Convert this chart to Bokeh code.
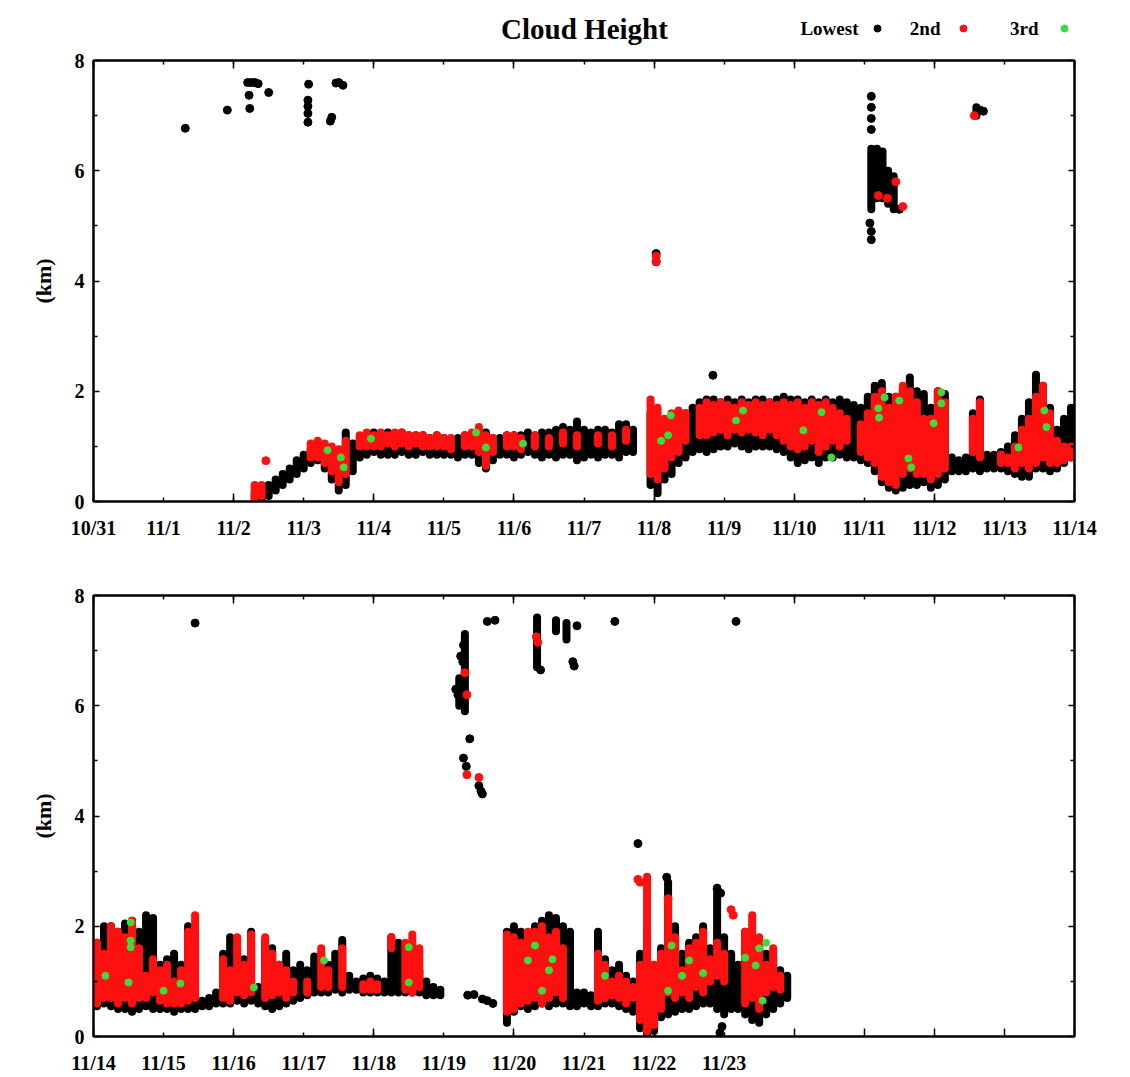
from bokeh.plotting import figure
from bokeh.layouts import column
from bokeh.models import FixedTicker, LinearAxis, Range1d
from bokeh.core.properties import value
from bokeh.embed import file_html
from bokeh.resources import INLINE

# ---------------------------------------------------------------------------
# Cloud base heights (km) from the ceilometer, time in days since 10/31 00:00.
# Dense stretches are stored as columns (time, lowest km, highest km) of
# overlapping returns; isolated returns as single (time, km) points.
# ---------------------------------------------------------------------------

# ---- Panel 1: 10/31 - 11/14 ----
p1_low_t = [2.3, 2.4, 2.5, 2.6, 2.7, 2.8, 2.9, 3.0, 3.1, 3.2, 3.3, 3.4, 3.5, 3.6, 3.7, 3.8,
            3.9, 4.0, 4.1, 4.2, 4.3, 4.4, 4.5, 4.6, 4.7, 4.8, 4.9, 5.0, 5.1, 5.2, 5.3, 5.4,
            5.5, 5.6, 5.7, 5.8, 5.9, 6.0, 6.1, 6.2, 6.3, 6.4, 6.5, 6.6, 6.7, 6.8, 6.9, 7.0,
            7.1, 7.2, 7.3, 7.4, 7.5, 7.6, 7.7,
            7.95, 8.05, 8.15, 8.25, 8.35, 8.45, 8.55, 8.65, 8.75, 8.85, 8.95, 9.05, 9.15,
            9.25, 9.35, 9.45, 9.55, 9.65, 9.75, 9.85, 9.95, 10.05, 10.15, 10.25, 10.35,
            10.45, 10.55, 10.65, 10.75, 10.85, 10.95, 11.05, 11.15, 11.25, 11.35, 11.45,
            11.55, 11.65, 11.75, 11.85, 11.95, 12.05, 12.15, 12.25, 12.35, 12.45, 12.55,
            12.65, 12.75, 12.85, 12.95, 13.05, 13.15, 13.25, 13.35, 13.45, 13.55, 13.65,
            13.75, 13.85, 13.95]
p1_low_lo = [0.05, 0.05, 0.1, 0.2, 0.3, 0.4, 0.5, 0.6, 0.7, 0.75, 0.6, 0.4, 0.2, 0.3, 0.55, 0.8,
             0.85, 0.9, 0.85, 0.85, 0.85, 0.9, 0.85, 0.85, 0.9, 0.85, 0.85, 0.85, 0.85, 0.8, 0.85, 0.85,
             0.7, 0.6, 0.75, 0.85, 0.85, 0.8, 0.85, 0.9, 0.85, 0.8, 0.85, 0.8, 0.85, 0.85, 0.75, 0.8,
             0.85, 0.8, 0.85, 0.85, 0.8, 0.9, 0.9,
             0.3, 0.15, 0.4, 0.5, 0.7, 0.8, 0.9, 0.95, 0.9, 0.95, 1.0, 1.0, 1.05,
             1.0, 0.95, 1.0, 1.0, 1.0, 0.95, 0.9, 0.8, 0.7, 0.75, 0.8, 0.7,
             0.8, 0.8, 0.85, 0.8, 0.8, 0.75, 0.7, 0.55, 0.35, 0.25, 0.2,
             0.25, 0.3, 0.3, 0.35, 0.25, 0.3, 0.4, 0.55, 0.55, 0.55, 0.6,
             0.55, 0.6, 0.6, 0.6, 0.55, 0.5, 0.45, 0.45, 0.6, 0.6, 0.55,
             0.6, 0.7, 0.8]
p1_low_hi = [0.15, 0.2, 0.3, 0.4, 0.5, 0.6, 0.75, 0.85, 0.95, 1.0, 1.0, 0.95, 0.9, 1.25, 1.05, 1.15,
             1.2, 1.25, 1.2, 1.25, 1.2, 1.25, 1.2, 1.2, 1.2, 1.15, 1.2, 1.15, 1.1, 1.15, 1.2, 1.2,
             1.3, 1.25, 1.15, 1.15, 1.2, 1.2, 1.2, 1.25, 1.2, 1.25, 1.25, 1.3, 1.35, 1.3, 1.45, 1.3,
             1.25, 1.3, 1.3, 1.25, 1.4, 1.4, 1.3,
             1.6, 1.0, 1.2, 1.3, 1.5, 1.6, 1.7, 1.8, 1.85, 1.85, 1.8, 1.85, 1.8,
             1.85, 1.8, 1.85, 1.85, 1.8, 1.85, 1.9, 1.85, 1.85, 1.8, 1.85, 1.8,
             1.85, 1.8, 1.85, 1.8, 1.75, 1.7, 1.9, 2.1, 2.15, 1.9, 1.9,
             2.0, 2.25, 2.0, 1.95, 1.7, 2.0, 1.95, 0.8, 0.75, 0.8, 1.6,
             1.85, 0.85, 0.85, 0.9, 1.0, 1.2, 1.5, 1.8, 2.3, 2.1, 1.7,
             1.3, 1.5, 1.7]

p1_2nd_t = [2.3, 2.4, 3.1, 3.2, 3.3, 3.4, 3.5, 3.6, 3.8, 3.9, 4.0, 4.1, 4.2, 4.3, 4.4, 4.5,
            4.6, 4.7, 4.8, 4.9, 5.0, 5.1, 5.3, 5.4, 5.5, 5.6, 5.7, 5.9, 6.0, 6.1, 6.3, 6.5,
            6.7, 6.9, 7.2, 7.4, 7.6,
            7.95, 8.05, 8.15, 8.25, 8.35, 8.45, 8.65, 8.75, 8.85, 8.95, 9.05, 9.15, 9.25,
            9.35, 9.45, 9.55, 9.65, 9.75, 9.85, 9.95, 10.05, 10.15, 10.25, 10.35, 10.45,
            10.55, 10.65, 10.75, 10.95, 11.05, 11.15, 11.25, 11.35, 11.45, 11.55, 11.65,
            11.75, 11.85, 11.95, 12.05, 12.15, 12.55, 12.65, 12.95, 13.05, 13.15, 13.25,
            13.35, 13.45, 13.55, 13.65, 13.75, 13.85, 13.95]
p1_2nd_lo = [0.05, 0.1, 0.8, 0.8, 0.7, 0.55, 0.35, 0.5, 1.0, 1.0, 1.0, 1.0, 1.05, 1.0, 1.05, 1.0,
             1.05, 1.0, 1.0, 1.0, 1.0, 0.95, 1.0, 1.0, 0.9, 0.65, 0.9, 1.0, 1.0, 0.95, 1.0, 1.0,
             1.05, 1.0, 1.05, 1.0, 1.1,
             0.5, 0.4, 0.6, 0.8, 0.9, 1.1, 1.2, 1.2, 1.25, 1.3, 1.2, 1.3, 1.25,
             1.3, 1.25, 1.2, 1.3, 1.2, 1.1, 1.0, 0.95, 1.0, 1.1, 0.9, 1.0,
             1.1, 1.0, 1.1, 0.9, 0.8, 0.7, 0.45, 0.35, 0.3, 0.5, 0.6,
             0.5, 0.5, 0.4, 0.5, 0.6, 0.9, 0.8, 0.7, 0.7, 0.6, 0.7,
             0.6, 0.7, 0.8, 0.7, 0.7, 0.75, 0.8]
p1_2nd_hi = [0.3, 0.3, 1.05, 1.1, 1.05, 1.0, 0.95, 1.1, 1.2, 1.25, 1.2, 1.25, 1.2, 1.25, 1.25, 1.2,
             1.2, 1.2, 1.15, 1.2, 1.15, 1.15, 1.2, 1.25, 1.35, 1.2, 1.15, 1.2, 1.2, 1.15, 1.2, 1.15,
             1.25, 1.2, 1.2, 1.2, 1.3,
             1.85, 1.7, 1.5, 1.6, 1.65, 1.6, 1.7, 1.8, 1.75, 1.8, 1.75, 1.7, 1.8,
             1.75, 1.8, 1.75, 1.8, 1.75, 1.8, 1.75, 1.8, 1.7, 1.8, 1.75, 1.8,
             1.7, 1.6, 1.5, 1.4, 1.6, 1.9, 2.0, 1.7, 1.9, 2.1, 2.0,
             1.8, 1.5, 1.5, 2.0, 1.8, 1.5, 1.8, 0.85, 0.8, 1.0, 1.3,
             1.5, 1.9, 2.1, 1.6, 1.1, 1.0, 1.0]

p1_low_pt_t = [1.31, 1.91, 2.2, 2.25, 2.3, 2.35, 2.22, 2.23, 2.5, 3.07, 3.06, 3.06, 3.06, 3.06,
               3.4, 3.38, 3.46, 3.5, 3.56, 8.03, 8.03, 8.84,
               11.1, 11.1, 11.1, 11.1, 11.1, 11.1, 11.08, 11.5, 12.65, 12.7]
p1_low_pt_h = [6.77, 7.1, 7.6, 7.6, 7.6, 7.58, 7.37, 7.13, 7.42, 7.57, 7.28, 7.17, 7.04, 6.88,
               6.97, 6.9, 7.59, 7.6, 7.55, 4.35, 4.5, 2.29,
               7.35, 7.15, 6.95, 6.75, 4.75, 4.9, 5.05, 5.3, 7.1, 7.08]
# upper (mid-level) layers seen on 11/11 and 11/12
p1_up_t = [11.1, 11.18, 11.26, 11.34, 11.42, 12.6]
p1_up_lo = [5.3, 5.5, 5.5, 5.4, 5.3, 7.0]
p1_up_hi = [6.4, 6.4, 6.35, 6.0, 5.9, 7.15]

p1_2nd_pt_t = [2.46, 8.03, 8.03, 11.2, 11.33, 11.45, 11.55, 12.57]
p1_2nd_pt_h = [0.74, 4.35, 4.45, 5.55, 5.5, 5.8, 5.35, 7.0]

p1_3rd_t = [3.34, 3.53, 3.57, 3.96, 5.46, 5.6, 6.13, 8.1, 8.24, 8.2, 9.17, 9.27, 10.13,
            10.39, 10.53, 11.2, 11.29, 11.21, 11.5, 11.63, 11.67, 12.1, 12.1, 11.99,
            13.2, 13.57, 13.6]
p1_3rd_h = [0.93, 0.8, 0.62, 1.14, 1.25, 0.98, 1.05, 1.1, 1.56, 1.2, 1.47, 1.65, 1.29,
            1.62, 0.8, 1.69, 1.89, 1.52, 1.83, 0.78, 0.62, 1.98, 1.78, 1.42,
            0.98, 1.65, 1.35]

# ---- Panel 2: 11/14 - 11/28 ----
p2_low_t = [14.05, 14.15, 14.25, 14.35, 14.45, 14.55, 14.65, 14.75, 14.85, 14.95, 15.05,
            15.15, 15.25, 15.35, 15.45, 15.55, 15.65, 15.75, 15.85, 15.95, 16.05, 16.15,
            16.25, 16.35, 16.45, 16.55, 16.65, 16.75, 16.85, 16.95, 17.05, 17.15, 17.25,
            17.35, 17.45, 17.55, 17.65, 17.75, 17.85, 17.95, 18.05, 18.15, 18.25, 18.35,
            18.45, 18.55, 18.65, 18.75, 18.85, 18.95,
            19.9, 20.0, 20.1, 20.2, 20.3, 20.4, 20.5, 20.6, 20.7, 20.8, 20.9, 21.0, 21.1,
            21.2, 21.3, 21.4, 21.5, 21.6, 21.7, 21.8, 21.9, 22.0, 22.1, 22.2, 22.3, 22.4,
            22.5, 22.6, 22.7, 22.8, 22.9, 23.0, 23.1, 23.2, 23.3, 23.4, 23.5, 23.6, 23.7,
            23.8, 23.9]
p2_low_lo = [0.55, 0.6, 0.55, 0.5, 0.5, 0.45, 0.5, 0.55, 0.5, 0.5, 0.5,
             0.45, 0.5, 0.5, 0.5, 0.55, 0.55, 0.6, 0.6, 0.6, 0.65, 0.6,
             0.65, 0.6, 0.55, 0.5, 0.55, 0.6, 0.65, 0.7, 0.75, 0.8, 0.8,
             0.8, 0.85, 0.8, 0.85, 0.85, 0.8, 0.8, 0.8, 0.8, 0.8, 0.8,
             0.8, 0.8, 0.8, 0.75, 0.75, 0.75,
             0.25, 0.45, 0.55, 0.5, 0.55, 0.6, 0.55, 0.6, 0.6, 0.55, 0.55, 0.6, 0.55,
             0.55, 0.6, 0.6, 0.55, 0.5, 0.45, 0.15, 0.05, 0.1, 0.35, 0.4, 0.45, 0.5,
             0.5, 0.55, 0.6, 0.6, 0.5, 0.4, 0.5, 0.5, 0.4, 0.3, 0.25, 0.4, 0.5,
             0.6, 0.7]
p2_low_hi = [1.7, 2.0, 2.0, 1.9, 2.05, 2.1, 1.9, 2.2, 2.15, 1.3, 1.4,
             1.5, 1.3, 2.0, 1.9, 0.65, 0.7, 0.8, 1.5, 1.8, 1.6, 1.4,
             1.9, 0.9, 1.7, 1.6, 1.3, 1.5, 1.2, 1.3, 1.2, 1.45, 1.5,
             1.3, 1.5, 1.75, 1.1, 1.0, 1.05, 1.1, 1.05, 1.0, 1.8, 1.7,
             1.3, 1.4, 1.2, 1.0, 0.9, 0.85,
             1.9, 2.0, 1.9, 1.85, 2.0, 2.1, 2.2, 2.15, 2.0, 1.9, 0.8, 0.8, 0.75,
             1.9, 1.4, 1.2, 1.3, 1.1, 1.0, 1.5, 1.9, 1.1, 1.6, 2.8, 2.0, 1.5,
             1.7, 1.8, 2.0, 1.6, 2.7, 1.8, 1.5, 1.3, 1.9, 1.8, 1.7, 1.5, 1.4,
             1.2, 1.1]

p2_2nd_t = [14.05, 14.15, 14.25, 14.35, 14.45, 14.55, 14.65, 14.75, 14.85, 14.95, 15.05,
            15.15, 15.25, 15.35, 15.45, 15.85, 15.95, 16.05, 16.15, 16.25, 16.45, 16.55,
            16.65, 16.75, 16.85, 17.05, 17.25, 17.35, 17.55, 17.85, 17.95, 18.05, 18.25,
            18.45, 18.55, 18.65,
            19.9, 20.0, 20.1, 20.2, 20.3, 20.4, 20.5, 20.6, 20.7, 21.2, 21.3, 21.4, 21.5,
            21.6, 21.7, 21.8, 21.9, 22.0, 22.1, 22.2, 22.3, 22.4, 22.5, 22.6, 22.7, 22.8,
            22.9, 23.0, 23.3, 23.4, 23.5, 23.6, 23.7, 23.8]
p2_2nd_lo = [0.6, 0.7, 0.7, 0.6, 0.7, 0.6, 0.7, 0.7, 0.8, 0.65, 0.6,
             0.6, 0.6, 0.65, 0.7, 0.7, 0.65, 0.8, 0.75, 0.8, 0.7, 0.75,
             0.8, 0.7, 0.8, 0.8, 0.9, 0.9, 0.9, 0.85, 0.85, 0.85, 1.6,
             0.85, 0.8, 0.9,
             0.45, 0.5, 0.6, 0.65, 0.7, 0.6, 0.7, 0.8, 0.7, 0.65, 0.7, 0.75, 0.7,
             0.6, 0.7, 0.3, 0.1, 0.2, 0.5, 0.8, 0.7, 0.8, 0.7, 0.9, 0.8, 1.0,
             1.1, 1.0, 0.6, 0.7, 0.5, 0.8, 0.9, 0.85]
p2_2nd_hi = [1.7, 1.5, 2.0, 1.9, 1.8, 2.1, 1.6, 1.1, 1.4, 1.2, 1.3,
             1.0, 1.2, 1.9, 2.2, 1.4, 1.2, 1.8, 1.3, 1.85, 1.8, 1.5,
             1.3, 1.2, 1.0, 1.0, 1.6, 1.2, 1.6, 0.95, 1.0, 0.95, 1.8,
             1.7, 1.85, 1.6,
             1.85, 1.8, 1.7, 1.9, 1.9, 2.0, 1.8, 1.9, 1.6, 1.5, 1.3, 1.0, 1.1,
             1.0, 0.9, 1.3, 2.9, 1.3, 1.5, 2.5, 1.8, 1.2, 1.6, 1.7, 1.9, 1.4,
             1.7, 1.5, 1.9, 2.2, 1.8, 1.3, 1.6, 1.1]

p2_low_pt_t = [15.45, 19.34, 19.43, 19.55, 19.62, 19.7,
               19.17, 19.2, 19.24, 19.27, 19.28, 19.37, 19.28, 19.32, 19.5, 19.53, 19.55,
               19.62, 19.73, 20.38, 20.84, 20.86, 20.9, 21.44, 23.17,
               21.77, 22.18, 22.9, 22.95, 22.94, 22.97]
p2_low_pt_h = [7.5, 0.75, 0.76, 0.68, 0.65, 0.6,
               6.3, 6.2, 6.9, 6.8, 7.1, 5.4, 5.05, 4.9, 4.55, 4.45, 4.4,
               7.53, 7.55, 6.65, 6.8, 6.72, 7.45, 7.53, 7.53,
               3.5, 2.89, 2.68, 2.6, 0.07, 0.18]
# upper layers on 11/19 and 11/20
p2_up_t = [19.22, 19.3, 20.33, 20.6, 20.75]
p2_up_lo = [6.0, 5.9, 6.7, 7.35, 7.2]
p2_up_hi = [6.5, 7.3, 7.6, 7.55, 7.5]

p2_2nd_pt_t = [19.3, 19.33, 19.33, 19.5, 20.32, 20.34, 21.77, 21.8, 22.2, 23.1, 23.13]
p2_2nd_pt_h = [6.6, 6.2, 4.75, 4.7, 7.25, 7.15, 2.85, 2.8, 2.5, 2.3, 2.2]

p2_3rd_t = [14.17, 14.53, 14.53, 14.53, 14.5, 15.0, 15.24, 16.29, 17.29, 18.5, 18.5,
            20.2, 20.3, 20.4, 20.5, 20.55, 21.3, 22.2, 22.25, 22.4, 22.5, 22.7,
            23.3, 23.45, 23.5, 23.55, 23.6]
p2_3rd_h = [1.1, 2.07, 1.74, 1.62, 0.98, 0.83, 0.96, 0.89, 1.38, 1.62, 0.98,
            1.38, 1.65, 0.83, 1.2, 1.4, 1.1, 0.83, 1.65, 1.1, 1.38, 1.15,
            1.43, 1.29, 1.6, 0.65, 1.7]

# tick labels
p1_day_labels = ["10/31", "11/1", "11/2", "11/3", "11/4", "11/5", "11/6", "11/7",
                 "11/8", "11/9", "11/10", "11/11", "11/12", "11/13", "11/14"]
p2_day_labels = ["11/14", "11/15", "11/16", "11/17", "11/18", "11/19", "11/20",
                 "11/21", "11/22", "11/23"]

# key entries
key_names = ["Lowest", "2nd", "3rd"]

# ---------------------------------------------------------------------------
FONT = "Liberation Serif"
BLACK = "#000000"
RED = "#ff1010"
GREEN = "#3ddc3d"
DOT = 8
LEFT, RIGHT, FRAME_W = 93, 56, 981


def style_axis(ax, tick_len, minor_len):
    ax.axis_line_width = 2
    ax.axis_line_color = BLACK
    ax.major_tick_line_color = BLACK
    ax.minor_tick_line_color = BLACK
    ax.major_tick_in = tick_len
    ax.major_tick_out = 0
    ax.minor_tick_in = minor_len
    ax.minor_tick_out = 0
    ax.major_tick_line_width = 1.5
    ax.minor_tick_line_width = 1.5


def make_panel(day0, labels, top_border, bottom_border):
    p = figure(frame_width=FRAME_W, frame_height=441, x_range=(day0, day0 + 14),
               y_range=(0, 8), output_backend="svg", toolbar_location=None,
               min_border_left=LEFT, min_border_right=RIGHT,
               min_border_top=top_border, min_border_bottom=bottom_border,
               background_fill_color="white", border_fill_color="white")
    p.grid.visible = False
    p.outline_line_color = BLACK
    p.outline_line_width = 2

    all_days = list(range(day0, day0 + 15))
    labelled = all_days[:len(labels)]
    long_marks = [d for d in all_days if d % 2 == 0 or d > labelled[-1]]
    x_lab = FixedTicker(ticks=labelled, minor_ticks=long_marks)
    x_mirror = FixedTicker(ticks=all_days, minor_ticks=[d for d in all_days if d % 2 == 0])
    yt = FixedTicker(ticks=[0, 2, 4, 6, 8], minor_ticks=[1, 3, 5, 7])

    bottom = p.xaxis[0]
    left = p.yaxis[0]
    bottom.ticker = x_lab
    bottom.major_label_overrides = {d: lab for d, lab in zip(labelled, labels)}
    left.ticker = yt
    left.axis_label = "(km)"

    # mirrored tick marks on the top and right edges, without labels
    top = LinearAxis(ticker=x_mirror, major_label_text_color=None,
                     major_label_text_font_size="1px", major_label_standoff=0)
    right = LinearAxis(ticker=yt, major_label_text_color=None,
                       major_label_text_font_size="1px", major_label_standoff=0)
    p.add_layout(top, "above")
    p.add_layout(right, "right")

    style_axis(bottom, 4, 8)
    style_axis(top, 4, 8)
    style_axis(left, 6, 4)
    style_axis(right, 6, 4)

    for ax in (bottom, left):
        ax.major_label_text_font = FONT
        ax.major_label_text_font_style = "bold"
        ax.major_label_text_color = BLACK
        ax.major_label_text_font_size = "20px"
    bottom.major_label_standoff = 15
    left.major_label_standoff = 9
    left.axis_label_text_font = FONT
    left.axis_label_text_font_style = "bold"
    left.axis_label_text_color = BLACK
    left.axis_label_text_font_size = "22px"
    left.axis_label_standoff = 16
    return p


def draw(p, low, up, second, low_pts, second_pts, third):
    w = DOT
    p.segment(x0=low[0], y0=low[1], x1=low[0], y1=low[2], line_width=w,
              line_cap="round", color=BLACK)
    p.segment(x0=up[0], y0=up[1], x1=up[0], y1=up[2], line_width=w,
              line_cap="round", color=BLACK)
    p.scatter(low_pts[0], low_pts[1], size=w, color=BLACK)
    p.segment(x0=second[0], y0=second[1], x1=second[0], y1=second[2], line_width=w,
              line_cap="round", color=RED)
    p.scatter(second_pts[0], second_pts[1], size=w, color=RED)
    p.scatter(third[0], third[1], size=w - 1, color=GREEN)


# header strip: title and key in page pixels (x from the left, y from the top)
head = figure(frame_width=FRAME_W, frame_height=45,
              x_range=Range1d(LEFT, LEFT + FRAME_W), y_range=Range1d(45, 0),
              x_axis_type=None, y_axis_type=None, output_backend="svg",
              toolbar_location=None, min_border=0, min_border_left=LEFT,
              min_border_right=RIGHT, outline_line_color=None,
              background_fill_color="white", border_fill_color="white")
head.grid.visible = False
head.text(x=[584], y=[28], text=["Cloud Height"], text_font=value(FONT),
          text_font_style="bold", text_font_size="29px", text_align="center",
          text_baseline="middle", text_color=BLACK)
head.text(x=[858, 940, 1038], y=[28, 28, 28], text=key_names, text_font=value(FONT),
          text_font_style="bold", text_font_size="19px", text_align="right",
          text_baseline="middle", text_color=BLACK)
head.scatter(x=[877, 963, 1064], y=[28, 28, 28], size=7,
             color=[BLACK, RED, GREEN])

p1 = make_panel(0, p1_day_labels, 15, 59)
draw(p1, (p1_low_t, p1_low_lo, p1_low_hi), (p1_up_t, p1_up_lo, p1_up_hi),
     (p1_2nd_t, p1_2nd_lo, p1_2nd_hi), (p1_low_pt_t, p1_low_pt_h),
     (p1_2nd_pt_t, p1_2nd_pt_h), (p1_3rd_t, p1_3rd_h))

p2 = make_panel(14, p2_day_labels, 35, 41)
draw(p2, (p2_low_t, p2_low_lo, p2_low_hi), (p2_up_t, p2_up_lo, p2_up_hi),
     (p2_2nd_t, p2_2nd_lo, p2_2nd_hi), (p2_low_pt_t, p2_low_pt_h),
     (p2_2nd_pt_t, p2_2nd_pt_h), (p2_3rd_t, p2_3rd_h))

layout = column(head, p1, p2, spacing=0)
open("out.html", "w").write(file_html(layout, INLINE))
